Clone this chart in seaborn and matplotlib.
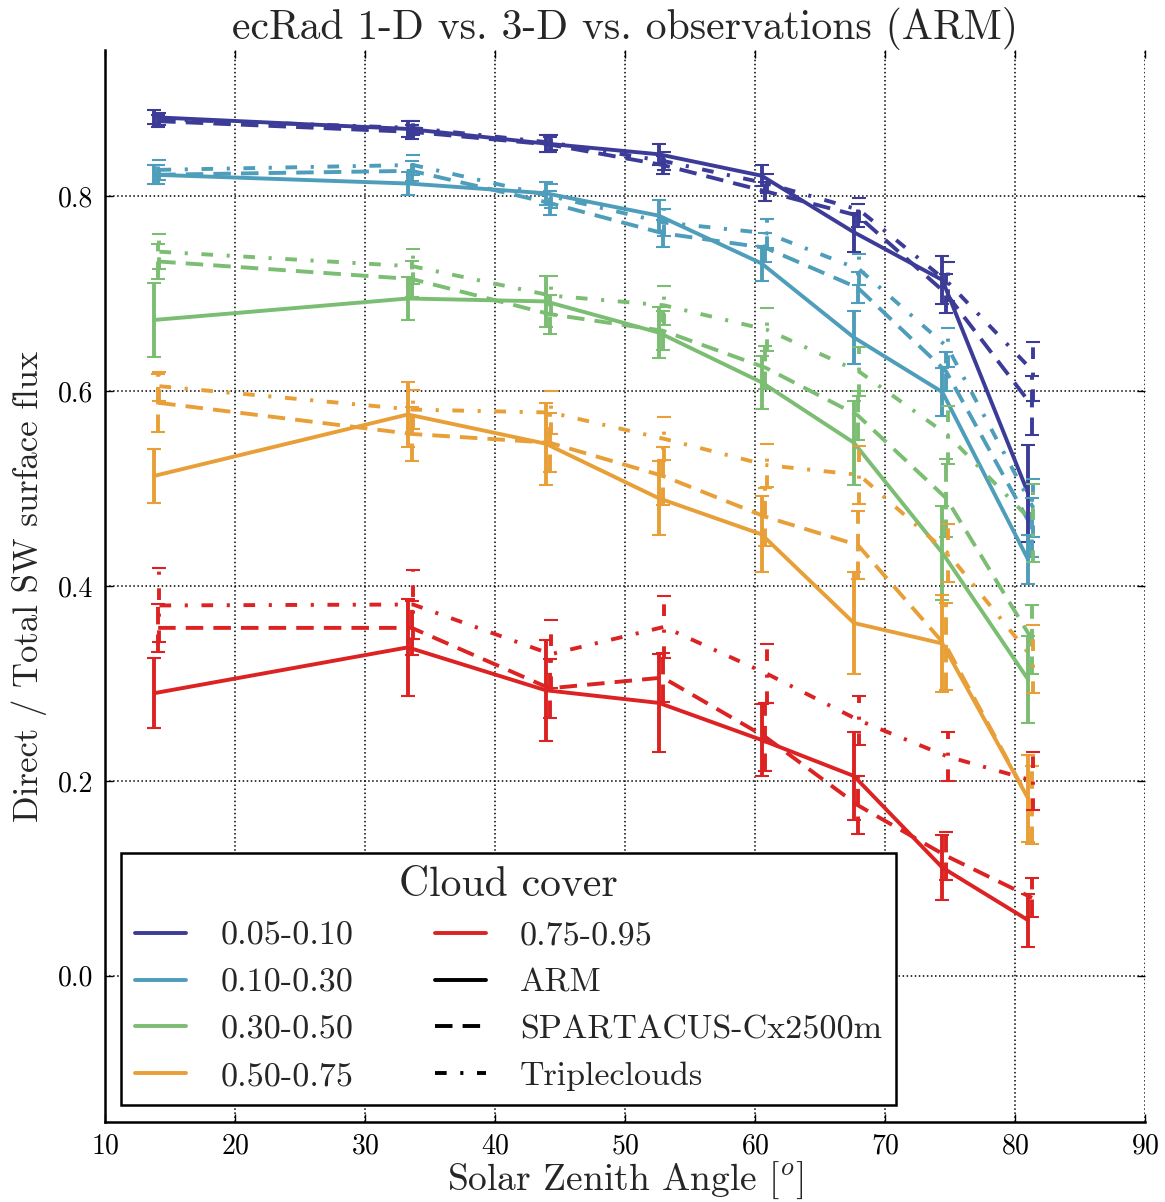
import numpy as np
import pandas as pd
import seaborn as sns
import matplotlib.pyplot as plt
from matplotlib.lines import Line2D

# Solar zenith angle bins
sza = [13.8, 33.3, 43.9, 52.6, 60.5, 67.6, 74.4, 81.0]

covers = ['0.05-0.10', '0.10-0.30', '0.30-0.50', '0.50-0.75', '0.75-0.95']
models = ['ARM', 'SPARTACUS-Cx2500m', 'Tripleclouds']

# Direct / total ratio, one list per cover class and source
arm_005 = [0.881, 0.869, 0.854, 0.843, 0.821, 0.763, 0.714, 0.495]
spa_005 = [0.877, 0.866, 0.853, 0.832, 0.805, 0.780, 0.700, 0.585]
tri_005 = [0.879, 0.870, 0.855, 0.836, 0.813, 0.786, 0.712, 0.620]

arm_010 = [0.822, 0.813, 0.803, 0.780, 0.731, 0.655, 0.599, 0.427]
spa_010 = [0.822, 0.826, 0.793, 0.762, 0.747, 0.706, 0.620, 0.460]
tri_010 = [0.827, 0.832, 0.800, 0.773, 0.762, 0.725, 0.645, 0.480]

arm_030 = [0.673, 0.695, 0.692, 0.660, 0.609, 0.547, 0.434, 0.304]
spa_030 = [0.733, 0.715, 0.679, 0.662, 0.624, 0.575, 0.490, 0.345]
tri_030 = [0.743, 0.728, 0.698, 0.688, 0.663, 0.620, 0.555, 0.465]

arm_050 = [0.513, 0.576, 0.546, 0.490, 0.453, 0.362, 0.341, 0.182]
spa_050 = [0.588, 0.556, 0.547, 0.513, 0.471, 0.442, 0.338, 0.175]
tri_050 = [0.605, 0.581, 0.578, 0.551, 0.524, 0.514, 0.434, 0.325]

arm_075 = [0.290, 0.337, 0.293, 0.280, 0.242, 0.205, 0.111, 0.057]
spa_075 = [0.357, 0.357, 0.295, 0.306, 0.245, 0.175, 0.123, 0.080]
tri_075 = [0.380, 0.381, 0.330, 0.358, 0.310, 0.262, 0.225, 0.200]

# half-widths of the error bars
err_arm_005 = [0.007, 0.008, 0.009, 0.011, 0.011, 0.020, 0.025, 0.050]
err_spa_005 = [0.006, 0.007, 0.008, 0.009, 0.010, 0.012, 0.020, 0.030]
err_tri_005 = [0.006, 0.007, 0.008, 0.009, 0.010, 0.012, 0.020, 0.030]

err_arm_010 = [0.010, 0.012, 0.012, 0.016, 0.018, 0.027, 0.025, 0.025]
err_spa_010 = [0.010, 0.010, 0.012, 0.014, 0.015, 0.016, 0.020, 0.030]
err_tri_010 = [0.010, 0.010, 0.012, 0.014, 0.015, 0.016, 0.020, 0.030]

err_arm_030 = [0.038, 0.022, 0.026, 0.026, 0.027, 0.043, 0.048, 0.045]
err_spa_030 = [0.018, 0.018, 0.020, 0.020, 0.022, 0.025, 0.040, 0.035]
err_tri_030 = [0.018, 0.018, 0.020, 0.020, 0.022, 0.025, 0.030, 0.040]

err_arm_050 = [0.028, 0.033, 0.042, 0.038, 0.039, 0.052, 0.050, 0.045]
err_spa_050 = [0.030, 0.028, 0.030, 0.030, 0.030, 0.035, 0.045, 0.040]
err_tri_050 = [0.015, 0.020, 0.022, 0.022, 0.022, 0.030, 0.030, 0.035]

err_arm_075 = [0.036, 0.050, 0.052, 0.050, 0.037, 0.045, 0.033, 0.027]
err_spa_075 = [0.025, 0.028, 0.030, 0.025, 0.035, 0.030, 0.025, 0.020]
err_tri_075 = [0.038, 0.035, 0.035, 0.032, 0.030, 0.025, 0.025, 0.030]

values = {
    '0.05-0.10': [arm_005, spa_005, tri_005],
    '0.10-0.30': [arm_010, spa_010, tri_010],
    '0.30-0.50': [arm_030, spa_030, tri_030],
    '0.50-0.75': [arm_050, spa_050, tri_050],
    '0.75-0.95': [arm_075, spa_075, tri_075],
}
errors = {
    '0.05-0.10': [err_arm_005, err_spa_005, err_tri_005],
    '0.10-0.30': [err_arm_010, err_spa_010, err_tri_010],
    '0.30-0.50': [err_arm_030, err_spa_030, err_tri_030],
    '0.50-0.75': [err_arm_050, err_spa_050, err_tri_050],
    '0.75-0.95': [err_arm_075, err_spa_075, err_tri_075],
}

colors = ['#3C3C98', '#4E9DBA', '#7BBD72', '#E89F37', '#DC2222']
palette = dict(zip(covers, colors))
dash_styles = {'ARM': '', 'SPARTACUS-Cx2500m': (4.5, 2.6), 'Tripleclouds': (3, 3.5, 0.8, 3.5)}
x_shift = {'ARM': 0.0, 'SPARTACUS-Cx2500m': 0.3, 'Tripleclouds': 0.4}

# long-form table for seaborn
rows = []
for c in covers:
    for m, vals, errs in zip(models, values[c], errors[c]):
        for x, v, e in zip(sza, vals, errs):
            rows.append({'sza': x + x_shift[m], 'ratio': v, 'err': e, 'cover': c, 'model': m})
df = pd.DataFrame(rows)

sns.set_theme(style='white')
plt.rcParams['font.family'] = ['cmr10', 'DejaVu Serif']
plt.rcParams['mathtext.fontset'] = 'cm'
plt.rcParams['axes.formatter.use_mathtext'] = True

fig = plt.figure(figsize=(11.65, 12.02), dpi=100)
ax = fig.add_axes([0.090, 0.0666, 0.893, 0.8918])

lw = 2.8
sns.lineplot(data=df, x='sza', y='ratio', hue='cover', style='model',
             palette=palette, dashes=dash_styles, hue_order=covers,
             style_order=models, linewidth=lw, legend=False, ax=ax)

# explicit error bars
for c in covers:
    for m in models:
        sub = df[(df.cover == c) & (df.model == m)]
        eb = ax.errorbar(sub.sza, sub.ratio, yerr=sub.err, fmt='none',
                         ecolor=palette[c], elinewidth=lw, capsize=5, capthick=1.5)
        if m != 'ARM':
            eb[2][0].set_linestyle((0, dash_styles[m]))

ax.set_xlim(10, 90)
ax.set_ylim(-0.15, 0.95)
ax.set_xticks(np.arange(10, 91, 10))
ax.set_yticks([0.0, 0.2, 0.4, 0.6, 0.8])
ax.set_yticklabels(['0.0', '0.2', '0.4', '0.6', '0.8'])
ax.grid(True, linestyle=':', color='black', linewidth=1.1)
for s in ['top', 'right']:
    ax.spines[s].set_visible(False)
for s in ['left', 'bottom']:
    ax.spines[s].set_color('black')
    ax.spines[s].set_linewidth(1.8)
ax.tick_params(direction='in', length=6, width=1, colors='black', labelsize=20,
               top=True, right=True, left=True, bottom=True, pad=8)

ax.set_title('ecRad 1-D vs. 3-D vs. observations (ARM)', fontsize=30, pad=8)
ax.set_xlabel('Solar Zenith Angle [$^o$]', fontsize=27, labelpad=0)
ax.set_ylabel('Direct / Total SW surface flux', fontsize=25, labelpad=8)

handles = [Line2D([], [], color=col, lw=lw) for col in colors]
labels = list(covers)
for m in models:
    ls = '-' if m == 'ARM' else (0, dash_styles[m])
    handles.append(Line2D([], [], color='black', lw=lw, linestyle=ls))
    labels.append(m)
leg = ax.legend(handles, labels, title='Cloud cover', ncol=2, loc='lower left',
                bbox_to_anchor=(0.016, 0.016), borderaxespad=0, fontsize=24.5,
                title_fontsize=30, frameon=True, fancybox=False, framealpha=1,
                edgecolor='black', handlelength=1.5, labelspacing=0.5,
                columnspacing=2.4, borderpad=0.4, handletextpad=1.0)
leg.get_frame().set_linewidth(1.8)

fig.savefig('out.png', dpi=100)
